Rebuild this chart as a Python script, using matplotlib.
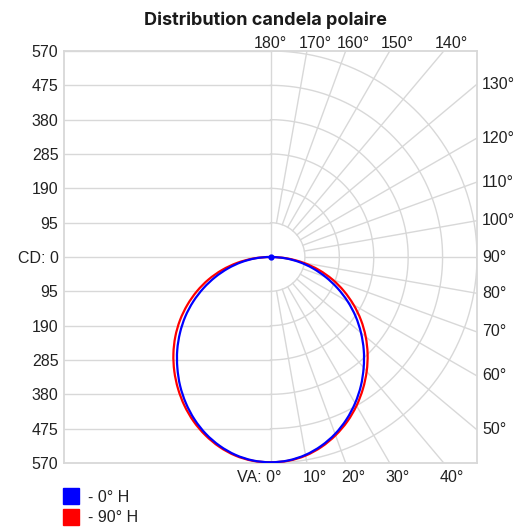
import numpy as np
import matplotlib.pyplot as plt
from matplotlib.patches import Rectangle, PathPatch
from matplotlib.path import Path
from matplotlib.transforms import offset_copy

# angles verticaux (degrés depuis le nadir) et intensités lues (cd)
angles = [0, 5, 10, 15, 20, 25, 30, 35, 40, 45, 50, 55, 60, 65, 70, 75, 80, 85, 90]
cd_0h = [568, 565, 556, 541, 521, 496, 467, 435, 400, 364, 326, 287, 246, 204, 162, 121, 81, 41, 0]
cd_90h = [568, 566, 558, 544, 525, 502, 475, 445, 413, 379, 343, 305, 265, 224, 182, 138, 93, 47, 0]

series_names = ['- 0° H', '- 90° H']
series_colors = ['#0000ff', '#ff0000']

ring_values = [95, 190, 285, 380, 475, 570]
va_labels = [0, 10, 20, 30, 40, 50, 60, 70, 80, 90, 100, 110, 120, 130, 140, 150, 160, 170, 180]

grid_color = '#d8d8d8'
tick_font = 'Liberation Sans'
txt_color = '#222222'


def smooth_path(px, py):
    # courbe fermée lissée passant par les points (Catmull-Rom -> Bézier)
    pts = np.column_stack([px, py])
    n = len(pts)
    verts = [pts[0]]
    codes = [Path.MOVETO]
    for i in range(n):
        p0, p1, p2, p3 = pts[i - 1], pts[i], pts[(i + 1) % n], pts[(i + 2) % n]
        verts += [p1 + (p2 - p0) / 6, p2 - (p3 - p1) / 6, p2]
        codes += [Path.CURVE4] * 3
    return Path(verts, codes)


fig = plt.figure(figsize=(5.16, 5.27), dpi=100)
ax = fig.add_axes([64 / 516, 1 - 463 / 527, 413 / 516, 412 / 527])
rmax = ring_values[-1]
ax.set_xlim(-rmax, rmax)
ax.set_ylim(-rmax, rmax)
for s in ax.spines.values():
    s.set_color(grid_color)
    s.set_linewidth(1.3)
ax.set_xticks([])

# graduations de gauche
yt = [r for r in ring_values[::-1]] + [0] + [-r for r in ring_values]
yl = [str(r) for r in ring_values[::-1]] + ['CD: 0'] + [str(r) for r in ring_values]
ax.set_yticks(yt)
ax.set_yticklabels(yl, fontsize=11.5, family=tick_font, color=txt_color)
ax.tick_params(axis='y', length=0, pad=4)

# grille : lignes horizontales à gauche, demi-cercles à droite
for v in yt:
    ax.plot([-rmax, 0], [v, v], color=grid_color, lw=1.0, zorder=1)
ax.plot([0, 0], [-rmax, rmax], color=grid_color, lw=1.0, zorder=1)
t = np.radians(np.linspace(0, 180, 361))
for r in ring_values:
    ax.plot(r * np.sin(t), -r * np.cos(t), color=grid_color, lw=1.0, zorder=1)

# rayons tous les 10° + étiquettes
for a in va_labels:
    th = np.radians(a)
    dx, dy = np.sin(th), -np.cos(th)
    far = rmax / max(abs(dx), abs(dy))
    if 0 < a < 180:
        ax.plot([ring_values[0] * dx, far * dx], [ring_values[0] * dy, far * dy],
                color=grid_color, lw=1.0, zorder=1)
    hx, hy = far * dx, far * dy
    if a == 0:
        tr = offset_copy(ax.transData, fig=fig, x=11, y=-14, units='dots')
        ax.text(hx, hy, 'VA: 0°', transform=tr, ha='right', va='center',
                fontsize=11.5, family=tick_font, color=txt_color, clip_on=False)
    elif a <= 40:
        tr = offset_copy(ax.transData, fig=fig, x=8, y=-14, units='dots')
        ax.text(hx, hy, f'{a}°', transform=tr, ha='center', va='center',
                fontsize=11.5, family=tick_font, color=txt_color, clip_on=False)
    elif a < 140:
        tr = offset_copy(ax.transData, fig=fig, x=5, y=0, units='dots')
        ax.text(hx, hy, f'{a}°', transform=tr, ha='left', va='center',
                fontsize=11.5, family=tick_font, color=txt_color, clip_on=False)
    else:
        off = 0 if a == 180 else 8
        tr = offset_copy(ax.transData, fig=fig, x=off, y=8, units='dots')
        ax.text(hx, hy, f'{a}°', transform=tr, ha='center', va='center',
                fontsize=11.5, family=tick_font, color=txt_color, clip_on=False)

# courbes (symétriques gauche/droite)
for vals, col, z in [(cd_90h, series_colors[1], 3), (cd_0h, series_colors[0], 4)]:
    full_a = np.radians([-a for a in angles[::-1]] + angles[1:-1])
    full_v = np.array(vals[::-1] + vals[1:-1], dtype=float)
    path = smooth_path(full_v * np.sin(full_a), -full_v * np.cos(full_a))
    ax.add_patch(PathPatch(path, fill=False, edgecolor=col, lw=1.6, zorder=z))

# point bleu au centre (intensité nulle à 90°)
ax.plot([cd_0h[-1] * np.sin(np.radians(angles[-1]))], [-cd_0h[-1] * np.cos(np.radians(angles[-1]))],
        'o', ms=3.5, color=series_colors[0], zorder=5)

fig.text(265 / 516, 1 - 20 / 527, 'Distribution candela polaire', ha='center', va='center',
         fontsize=13, fontweight='bold', family='Inter', color='#1a1a1a')

# légende
for i, (name, col) in enumerate(zip(series_names, series_colors)):
    y0 = 488 + i * 21
    fig.patches.append(Rectangle((63 / 516, 1 - (y0 + 16) / 527), 16 / 516, 16 / 527,
                                 transform=fig.transFigure, color=col))
    fig.text(88 / 516, 1 - (y0 + 9) / 527, name, ha='left', va='center',
             fontsize=11.5, family=tick_font, color=txt_color)

fig.savefig('out.png', dpi=100)
